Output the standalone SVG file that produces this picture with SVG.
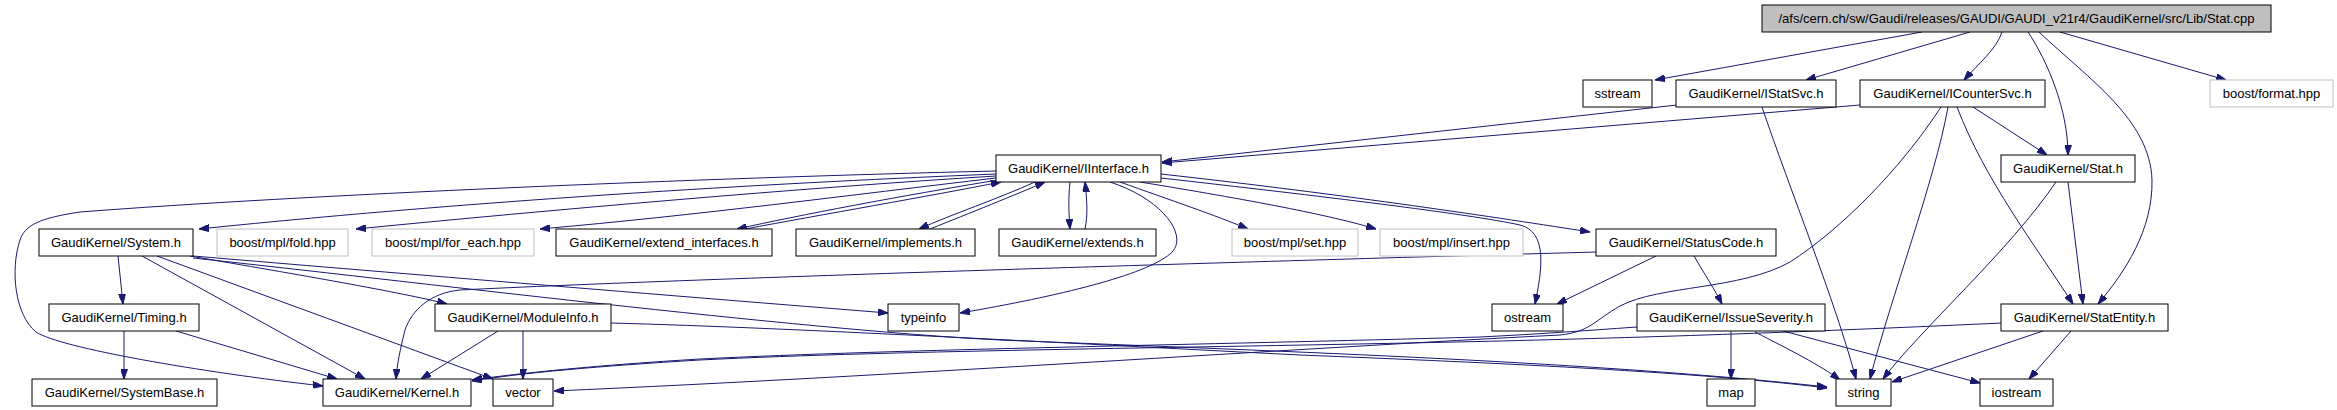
<svg xmlns="http://www.w3.org/2000/svg" width="2337" height="410" viewBox="0 0 2337 410">
<style>
.n rect{fill:#ffffff;stroke:#000000;stroke-width:1}
.g rect{fill:#ffffff;stroke:#bfbfbf;stroke-width:1}
.r rect{fill:#bfbfbf;stroke:#000000;stroke-width:1}
text{font-family:"Liberation Sans",Arial,sans-serif;font-size:13px;fill:#000000;text-anchor:middle}
#edges path{fill:none;stroke:#191970;stroke-width:1;marker-end:url(#arr)}
</style>
<defs>
<marker id="arr" viewBox="0 0 10 7" refX="10" refY="3.5" markerWidth="10" markerHeight="7" orient="auto" markerUnits="userSpaceOnUse">
<path d="M0,0 L10,3.5 L0,7 z" fill="#191970" stroke="#191970" stroke-width="1"/>
</marker>
</defs>
<rect width="2337" height="410" fill="#ffffff"/>
<g id="edges">
<path d="M1922,32 L1655,80"/>
<path d="M1970,32 L1806,80"/>
<path d="M2002,32 C1996,50 1978,64 1964,80"/>
<path d="M2028,32 C2048,62 2068,110 2068,155"/>
<path d="M2039,32 C2090,80 2150,120 2152,180 C2153,230 2125,272 2098,304"/>
<path d="M2060,32 L2226,80"/>
<path d="M1677,105 L1162,162"/>
<path d="M1762,107 C1790,190 1835,300 1856,379"/>
<path d="M1860,105 L1162,163"/>
<path d="M1973,107 L2047,155"/>
<path d="M1957,107 C1985,180 2035,245 2073,304"/>
<path d="M1948,107 C1935,180 1890,300 1870,379"/>
<path d="M1941,107 C1900,170 1840,230 1790,262 C1740,290 1660,285 1620,306 C1595,320 1590,332 1560,335 C1300,348 900,376 554,391"/>
<path d="M2068,182 L2083,304"/>
<path d="M2056,182 C2010,250 1920,330 1883,379"/>
<path d="M2043,331 L1892,382"/>
<path d="M2071,331 L2029,379"/>
<path d="M2002,323 C1850,330 1700,336 1500,341 C1200,348 900,350 700,360 C600,366 520,373 472,381"/>
<path d="M1637,327 C1580,331 1540,334 1480,337 C1200,345 900,349 700,359 C600,365 520,373 472,380"/>
<path d="M1731,331 L1731,379"/>
<path d="M1755,332 C1790,350 1820,365 1840,380"/>
<path d="M1783,331 L1980,383"/>
<path d="M1656,256 L1557,304"/>
<path d="M1694,256 C1705,275 1715,290 1722,304"/>
<path d="M1597,252 C1300,260 700,278 460,290 C430,293 412,310 405,330 C400,350 397,365 396,379"/>
<path d="M996,171 C700,178 300,195 80,212 C40,218 25,225 20,240 C10,270 15,315 36,332 C60,348 200,372 323,386"/>
<path d="M996,174 C800,182 500,198 199,229"/>
<path d="M996,176 C800,188 550,210 356,229"/>
<path d="M996,178 C850,195 700,215 540,229"/>
<path d="M998,180 C900,196 800,215 737,229"/>
<path d="M745,229 C820,215 930,196 1001,182"/>
<path d="M1035,182 C1000,198 950,215 919,229"/>
<path d="M930,229 C970,213 1015,195 1045,182"/>
<path d="M1070,182 C1068,200 1069,215 1070,229"/>
<path d="M1085,229 C1088,215 1087,200 1085,182"/>
<path d="M1120,182 C1170,200 1215,215 1248,229"/>
<path d="M1140,182 C1250,200 1330,215 1376,229"/>
<path d="M1161,174 C1350,195 1500,218 1590,232"/>
<path d="M1161,178 C1320,196 1470,214 1520,225 C1548,232 1542,270 1535,304"/>
<path d="M1110,182 C1165,200 1190,238 1170,254 C1145,275 1060,296 960,313"/>
<path d="M118,256 L123,304"/>
<path d="M142,256 L365,379"/>
<path d="M157,256 L493,379"/>
<path d="M190,256 C300,275 400,292 447,304"/>
<path d="M193,256 C300,265 600,290 888,313"/>
<path d="M193,258 C400,280 800,330 1000,340 C1300,352 1600,362 1827,387"/>
<path d="M498,331 L421,379"/>
<path d="M523,331 L523,379"/>
<path d="M611,323 C800,328 1100,345 1300,355 C1500,363 1700,372 1827,388"/>
<path d="M176,331 L337,379"/>
<path d="M124,331 L124,379"/>
</g>
<g id="node-stat-cpp" class="r"><rect x="1762" y="5" width="509" height="27"/><text x="2016.5" y="23">/afs/cern.ch/sw/Gaudi/releases/GAUDI/GAUDI_v21r4/GaudiKernel/src/Lib/Stat.cpp</text></g>
<g id="node-sstream" class="n"><rect x="1583" y="80" width="69" height="27"/><text x="1617.5" y="98">sstream</text></g>
<g id="node-istatsvc" class="n"><rect x="1676" y="80" width="160" height="27"/><text x="1756" y="98">GaudiKernel/IStatSvc.h</text></g>
<g id="node-icountersvc" class="n"><rect x="1860" y="80" width="185" height="27"/><text x="1952.5" y="98">GaudiKernel/ICounterSvc.h</text></g>
<g id="node-boost-format" class="g"><rect x="2210" y="80" width="123" height="27"/><text x="2271.5" y="98">boost/format.hpp</text></g>
<g id="node-iinterface" class="n"><rect x="996" y="155" width="165" height="27"/><text x="1078.5" y="173">GaudiKernel/IInterface.h</text></g>
<g id="node-stat-h" class="n"><rect x="2001" y="155" width="134" height="27"/><text x="2068" y="173">GaudiKernel/Stat.h</text></g>
<g id="node-system" class="n"><rect x="39" y="229" width="154" height="27"/><text x="116" y="247">GaudiKernel/System.h</text></g>
<g id="node-fold" class="g"><rect x="217" y="229" width="131" height="27"/><text x="282.5" y="247">boost/mpl/fold.hpp</text></g>
<g id="node-for-each" class="g"><rect x="372" y="229" width="162" height="27"/><text x="453" y="247">boost/mpl/for_each.hpp</text></g>
<g id="node-extend-interfaces" class="n"><rect x="556" y="229" width="216" height="27"/><text x="664" y="247">GaudiKernel/extend_interfaces.h</text></g>
<g id="node-implements" class="n"><rect x="796" y="229" width="179" height="27"/><text x="885.5" y="247">GaudiKernel/implements.h</text></g>
<g id="node-extends" class="n"><rect x="999" y="229" width="157" height="27"/><text x="1077.5" y="247">GaudiKernel/extends.h</text></g>
<g id="node-set" class="g"><rect x="1232" y="229" width="126" height="27"/><text x="1295" y="247">boost/mpl/set.hpp</text></g>
<g id="node-insert" class="g"><rect x="1380" y="229" width="143" height="27"/><text x="1451.5" y="247">boost/mpl/insert.hpp</text></g>
<g id="node-statuscode" class="n"><rect x="1596" y="229" width="180" height="27"/><text x="1686" y="247">GaudiKernel/StatusCode.h</text></g>
<g id="node-timing" class="n"><rect x="49" y="304" width="150" height="27"/><text x="124" y="322">GaudiKernel/Timing.h</text></g>
<g id="node-moduleinfo" class="n"><rect x="435" y="304" width="176" height="27"/><text x="523" y="322">GaudiKernel/ModuleInfo.h</text></g>
<g id="node-typeinfo" class="n"><rect x="888" y="304" width="71" height="27"/><text x="923.5" y="322">typeinfo</text></g>
<g id="node-ostream" class="n"><rect x="1492" y="304" width="71" height="27"/><text x="1527.5" y="322">ostream</text></g>
<g id="node-issueseverity" class="n"><rect x="1637" y="304" width="188" height="27"/><text x="1731" y="322">GaudiKernel/IssueSeverity.h</text></g>
<g id="node-statentity" class="n"><rect x="2001" y="304" width="167" height="27"/><text x="2084.5" y="322">GaudiKernel/StatEntity.h</text></g>
<g id="node-systembase" class="n"><rect x="32" y="379" width="185" height="27"/><text x="124.5" y="397">GaudiKernel/SystemBase.h</text></g>
<g id="node-kernel" class="n"><rect x="323" y="379" width="148" height="27"/><text x="397" y="397">GaudiKernel/Kernel.h</text></g>
<g id="node-vector" class="n"><rect x="493" y="379" width="60" height="27"/><text x="523" y="397">vector</text></g>
<g id="node-map" class="n"><rect x="1707" y="379" width="48" height="27"/><text x="1731" y="397">map</text></g>
<g id="node-string" class="n"><rect x="1836" y="379" width="55" height="27"/><text x="1863.5" y="397">string</text></g>
<g id="node-iostream" class="n"><rect x="1980" y="379" width="73" height="27"/><text x="2016.5" y="397">iostream</text></g>
</svg>
